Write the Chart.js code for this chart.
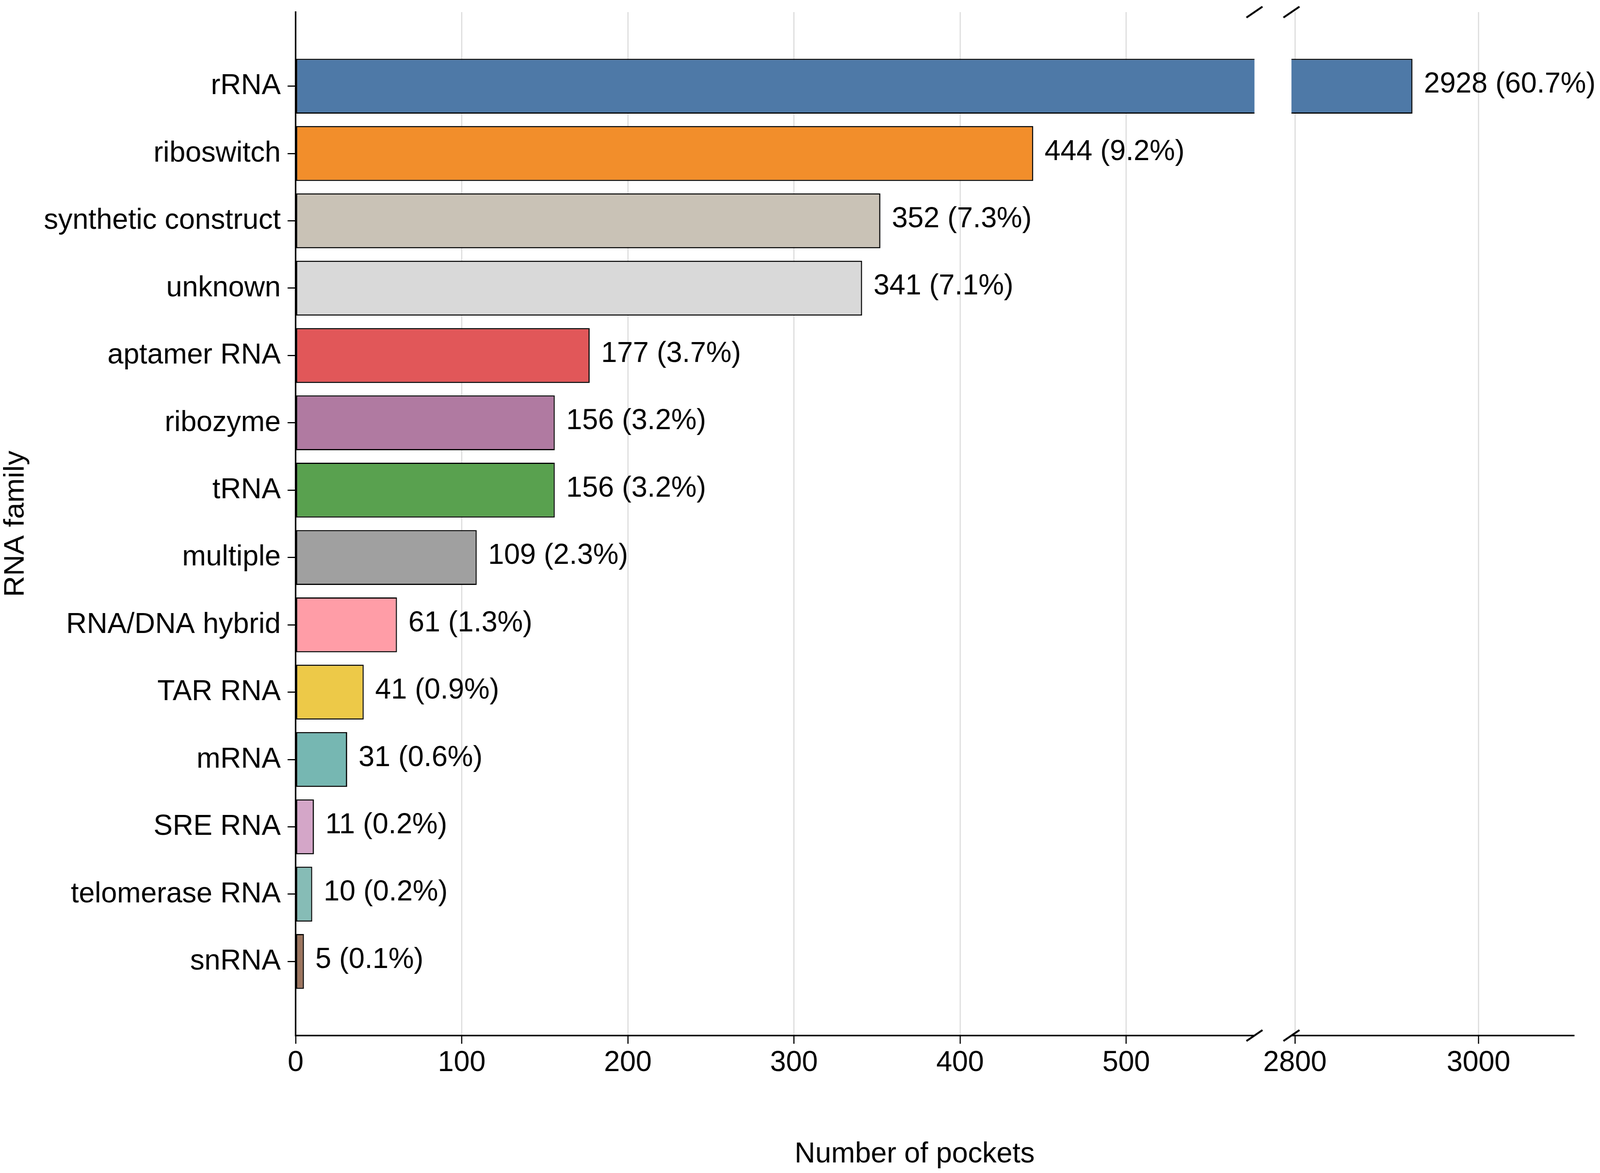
<!DOCTYPE html>
<html>
<head>
<meta charset="utf-8">
<script src="https://cdn.jsdelivr.net/npm/chart.js@4.4.1/dist/chart.umd.min.js"></script>
<style>
  html, body { margin: 0; padding: 0; background: #ffffff; overflow: hidden; }
  #wrap { position: relative; width: 100vw; height: 100vh; background: #ffffff; overflow: hidden; }
  canvas { position: absolute; left: 0; top: 0; }
</style>
</head>
<body>
<div id="wrap">
  <canvas id="leftPanel" width="4195" height="3004" style="width:100vw;height:100vh"></canvas>
  <canvas id="rightPanel" width="4195" height="3004" style="width:100vw;height:100vh"></canvas>
</div>
<script>
// ---------------- data ----------------
const categories = ['rRNA', 'riboswitch', 'synthetic construct', 'unknown', 'aptamer RNA', 'ribozyme', 'tRNA',
  'multiple', 'RNA/DNA hybrid', 'TAR RNA', 'mRNA', 'SRE RNA', 'telomerase RNA', 'snRNA'];
const pocketCounts = [2928, 444, 352, 341, 177, 156, 156, 109, 61, 41, 31, 11, 10, 5];
const pocketPercents = ['60.7', '9.2', '7.3', '7.1', '3.7', '3.2', '3.2', '2.3', '1.3', '0.9', '0.6', '0.2', '0.2', '0.1'];
const barColors = ['#4e79a7', '#f28e2b', '#c9c2b6', '#d9d9d9', '#e15759', '#b07aa1', '#59a14f',
  '#a0a0a0', '#ff9da7', '#edc948', '#76b7b2', '#d4a6c8', '#86bcb6', '#9c755f'];
const leftTicks = [0, 100, 200, 300, 400, 500];
const rightTicks = [2800, 3000];
const leftRange = [0, 577.2];
const rightRange = [2796.2, 3103.7];
const yTitle = 'RNA family';
const xTitle = 'Number of pockets';

// ---------------- style ----------------
const FONT = 'Liberation Sans';
const FS = 75;
const W = 4195, H = 3004;
const AREA = { left: 775, top: 31, bottom: 2652, leftEnd: 3289, rightStart: 3386, rightEnd: 4126 };

const points = pocketCounts.map((v, i) => ({ x: v, y: i }));

function breakMarks(ctx, x, ys) {
  ctx.save();
  ctx.strokeStyle = '#000';
  ctx.lineWidth = 5;
  ctx.lineCap = 'butt';
  ys.forEach(y => {
    ctx.beginPath();
    ctx.moveTo(x - 21, y + 14);
    ctx.lineTo(x + 21, y - 14);
    ctx.stroke();
  });
  ctx.restore();
}

function makePlugin(side) {
  return {
    id: 'decor_' + side,
    afterDraw(chart) {
      const ctx = chart.ctx;
      const xs = chart.scales.x;
      const ca = chart.chartArea;
      const meta = chart.getDatasetMeta(0);
      ctx.save();
      ctx.font = FS + 'px "' + FONT + '"';
      ctx.fillStyle = '#000';
      ctx.textAlign = 'left';
      ctx.textBaseline = 'alphabetic';
      pocketCounts.forEach((v, i) => {
        if (v < xs.min || v > xs.max) return;
        const el = meta.data[i];
        ctx.fillText(v + ' (' + pocketPercents[i] + '%)', el.x + 30, el.y + 0.22 * FS);
      });
      if (side === 'left') {
        ctx.textAlign = 'center';
        ctx.fillText(xTitle, 2398, 2977);
      }
      ctx.restore();
      const bx = side === 'left' ? ca.right : ca.left;
      breakMarks(ctx, bx, [ca.top, ca.bottom]);
    }
  };
}

function makeChart(id, side) {
  const isLeft = side === 'left';
  const range = isLeft ? leftRange : rightRange;
  const tickVals = isLeft ? leftTicks : rightTicks;
  return new Chart(document.getElementById(id), {
    type: 'bar',
    data: {
      datasets: [{
        data: points,
        backgroundColor: barColors,
        borderColor: '#000',
        borderWidth: 3,
        borderSkipped: false,
        barPercentage: 0.815,
        categoryPercentage: 1.0
      }]
    },
    options: {
      indexAxis: 'y',
      responsive: false,
      maintainAspectRatio: false,
      animation: false,
      devicePixelRatio: 1,
      layout: {
        padding: isLeft
          ? { left: 0, top: AREA.top, right: W - AREA.leftEnd, bottom: 0 }
          : { left: AREA.rightStart, top: AREA.top, right: W - AREA.rightEnd, bottom: 0 }
      },
      plugins: { legend: { display: false }, tooltip: { enabled: false } },
      scales: {
        x: {
          type: 'linear',
          position: 'bottom',
          offset: false,
          min: range[0],
          max: range[1],
          afterBuildTicks: s => { s.ticks = tickVals.map(v => ({ value: v })); },
          afterFit: s => { s.height = H - AREA.bottom; s.paddingLeft = 0; s.paddingRight = 0; },
          ticks: {
            autoSkip: false,
            maxRotation: 0,
            padding: 4,
            color: '#000',
            font: { family: FONT, size: FS },
            callback: v => String(v)
          },
          grid: {
            display: true,
            offset: false,
            drawOnChartArea: true,
            drawTicks: true,
            color: '#dcdcdc',
            lineWidth: 3,
            tickColor: '#000',
            tickLength: 21,
            tickWidth: 3
          },
          border: { display: true, color: '#000', width: 4 }
        },
        y: {
          type: 'linear',
          display: isLeft,
          reverse: true,
          offset: false,
          min: -1.1,
          max: 14.1,
          afterBuildTicks: s => { s.ticks = categories.map((c, i) => ({ value: i })); },
          afterFit: s => { if (isLeft) { s.width = AREA.left; } s.paddingTop = 0; s.paddingBottom = 0; },
          ticks: {
            autoSkip: false,
            padding: 18,
            color: '#000',
            font: { family: FONT, size: FS },
            callback: v => categories[v]
          },
          grid: {
            display: true,
            offset: false,
            drawOnChartArea: false,
            drawTicks: true,
            tickColor: '#000',
            tickLength: 21,
            tickWidth: 3
          },
          border: { display: true, color: '#000', width: 4 },
          title: {
            display: true,
            text: yTitle,
            color: '#000',
            font: { family: FONT, size: FS, lineHeight: 1 },
            padding: { top: 4, bottom: 0 }
          }
        }
      }
    },
    plugins: [makePlugin(side)]
  });
}

makeChart('leftPanel', 'left');
makeChart('rightPanel', 'right');
</script>
</body>
</html>
